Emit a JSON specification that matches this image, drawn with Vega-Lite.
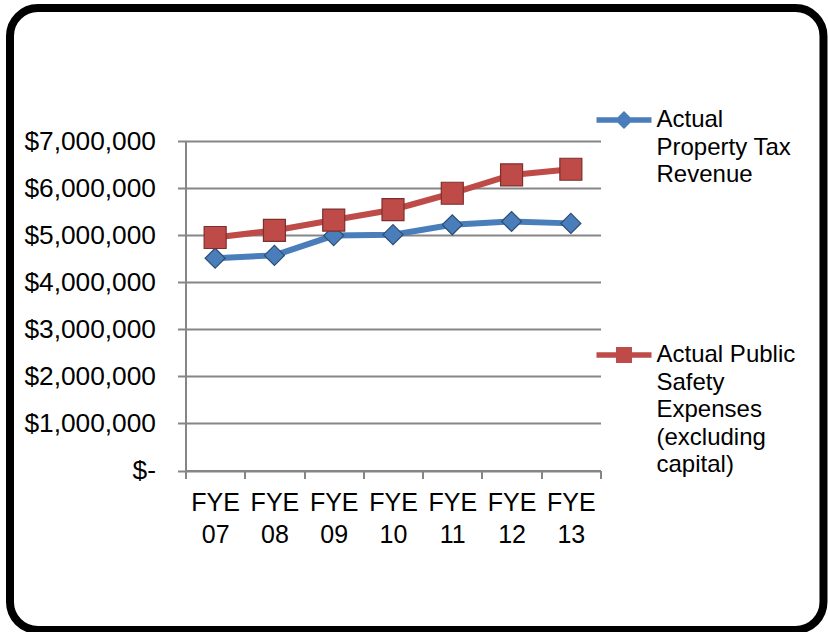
{
  "$schema": "https://vega.github.io/schema/vega-lite/v6.json",
  "width": 415,
  "height": 329.5,
  "autosize": {"type": "none"},
  "padding": {"left": 185.5, "top": 141, "right": 227.5, "bottom": 161.5},
  "background": "white",
  "config": {"view": {"stroke": null}, "font": "Liberation Sans"},
  "data": {
    "values": [
      {"year": "FYE 07", "series": "Actual Property Tax Revenue", "value": 4510000},
      {"year": "FYE 08", "series": "Actual Property Tax Revenue", "value": 4570000},
      {"year": "FYE 09", "series": "Actual Property Tax Revenue", "value": 4990000},
      {"year": "FYE 10", "series": "Actual Property Tax Revenue", "value": 5010000},
      {"year": "FYE 11", "series": "Actual Property Tax Revenue", "value": 5220000},
      {"year": "FYE 12", "series": "Actual Property Tax Revenue", "value": 5290000},
      {"year": "FYE 13", "series": "Actual Property Tax Revenue", "value": 5250000},
      {"year": "FYE 07", "series": "Actual Public Safety Expenses (excluding capital)", "value": 4950000},
      {"year": "FYE 08", "series": "Actual Public Safety Expenses (excluding capital)", "value": 5100000},
      {"year": "FYE 09", "series": "Actual Public Safety Expenses (excluding capital)", "value": 5320000},
      {"year": "FYE 10", "series": "Actual Public Safety Expenses (excluding capital)", "value": 5540000},
      {"year": "FYE 11", "series": "Actual Public Safety Expenses (excluding capital)", "value": 5890000},
      {"year": "FYE 12", "series": "Actual Public Safety Expenses (excluding capital)", "value": 6280000},
      {"year": "FYE 13", "series": "Actual Public Safety Expenses (excluding capital)", "value": 6400000}
    ]
  },
  "layer": [
    {
      "encoding": {
        "x": {
          "field": "year", "type": "ordinal", "bandPosition": 0.5,
          "scale": {"type": "band", "paddingInner": 0, "paddingOuter": 0},
          "axis": {
            "title": null, "labelAngle": 0, "labelFontSize": 25, "labelFont": "Liberation Sans", "labelColor": "black",
            "labelExpr": "split(datum.label, ' ')", "labelLineHeight": 31.7, "labelBaseline": "top", "labelPadding": 12,
            "tickBand": "extent", "tickSize": 8, "tickColor": "#868686", "tickWidth": 2,
            "domainColor": "#868686", "domainWidth": 2, "grid": false
          }
        },
        "y": {
          "field": "value", "type": "quantitative",
          "scale": {"domain": [0, 7000000], "nice": false},
          "axis": {
            "title": null, "values": [0, 1000000, 2000000, 3000000, 4000000, 5000000, 6000000, 7000000],
            "labelExpr": "datum.value === 0 ? '$-' : '$' + format(datum.value, ',')",
            "labelFontSize": 26.3, "labelFont": "Liberation Sans", "labelColor": "black", "labelPadding": 22,
            "tickSize": 8, "tickColor": "#868686", "tickWidth": 2,
            "domainColor": "#868686", "domainWidth": 2,
            "grid": true, "gridColor": "#868686", "gridWidth": 2
          }
        }
      },
      "layer": [
        {
          "mark": {"type": "line", "strokeWidth": 6},
          "encoding": {
            "color": {
              "field": "series", "type": "nominal",
              "scale": {"domain": ["Actual Property Tax Revenue", "Actual Public Safety Expenses (excluding capital)"], "range": ["#4a7ebb", "#be4b48"]},
              "legend": {
                "title": null, "orient": "none", "legendX": 411, "legendY": -48.5, "padding": 0,
                "symbolSize": 3025, "symbolStrokeWidth": 0,
                "labelFontSize": 24, "labelFont": "Liberation Sans", "labelColor": "black", "labelLimit": 0,
                "labelOffset": 5, "rowPadding": 140,
                "labelExpr": "datum.label === 'Actual Property Tax Revenue' ? ['Actual', 'Property Tax', 'Revenue'] : ['Actual Public', 'Safety', 'Expenses', '(excluding', 'capital)']",
                "encode": {
                  "labels": {
                    "update": {"lineHeight": {"value": 27.5}}
                  },
                  "symbols": {
                    "update": {
                      "shape": {"signal": "datum.value === 'Actual Property Tax Revenue' ? 'M-1,-0.1H1V0.1H-1ZM0,-0.33L0.33,0L0,0.33L-0.33,0Z' : 'M-1,-0.1H1V0.1H-1ZM-0.29,-0.29H0.29V0.29H-0.29Z'"},
                      "fill": {"signal": "datum.value === 'Actual Property Tax Revenue' ? '#4a7ebb' : '#be4b48'"},
                      "strokeWidth": {"value": 0},
                      "opacity": {"value": 1}
                    }
                  }
                }
              }
            }
          }
        },
        {
          "mark": {"type": "point", "filled": true, "opacity": 1, "strokeWidth": 1.2},
          "encoding": {
            "color": {"field": "series", "type": "nominal"},
            "shape": {"field": "series", "type": "nominal", "scale": {"range": ["diamond", "square"]}, "legend": null},
            "stroke": {"field": "series", "type": "nominal", "scale": {"range": ["#2c4d75", "#7d2f2d"]}, "legend": null},
            "size": {"field": "series", "type": "nominal", "scale": {"range": [400, 484]}, "legend": null}
          }
        }
      ]
    },
    {
      "data": {"values": [{}]},
      "mark": {"type": "rect", "filled": false, "stroke": "black", "strokeWidth": 8, "cornerRadius": 28},
      "encoding": {
        "x": {"datum": -0.4229, "type": "quantitative", "scale": {"domain": [0, 1]}, "axis": null},
        "x2": {"datum": 1.5373},
        "y": {"datum": 1.4036, "type": "quantitative", "scale": {"domain": [0, 1]}, "axis": null},
        "y2": {"datum": -0.4841}
      }
    }
  ],
  "resolve": {"scale": {"x": "independent", "y": "independent"}}
}
